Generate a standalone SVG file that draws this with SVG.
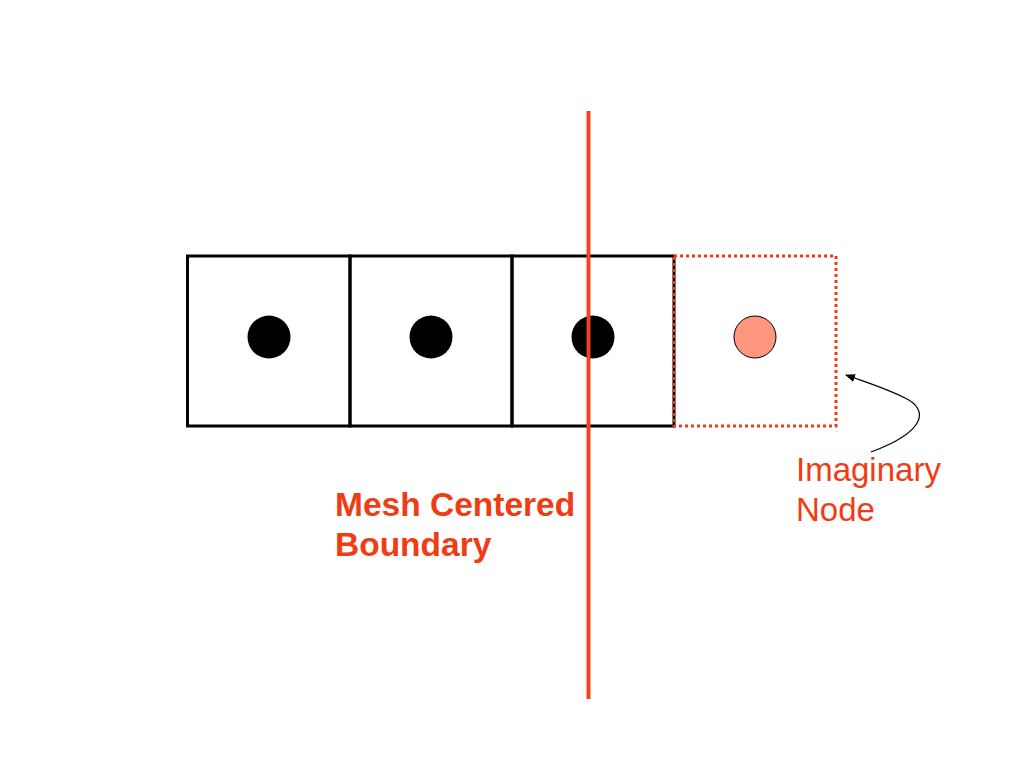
<svg xmlns="http://www.w3.org/2000/svg" width="1024" height="768" viewBox="0 0 1024 768">
<defs>
<style>
.cell{fill:none;stroke:#000;stroke-width:3}
.dot{fill:#000}
.lbl{font-family:"Liberation Sans",Arial,sans-serif;fill:#F03C14}
</style>
<marker id="ah" markerWidth="10" markerHeight="8" refX="9" refY="4" orient="auto" markerUnits="userSpaceOnUse">
<path d="M0,0 L10,4 L0,8 Z" fill="#000"/>
</marker>
</defs>
<rect width="1024" height="768" fill="#fff"/>
<g id="cell1"><rect class="cell" x="187.5" y="256" width="162.5" height="170"/><circle class="dot" cx="269" cy="337" r="21.5"/></g>
<g id="cell2"><rect class="cell" x="350" y="256" width="162" height="170"/><circle class="dot" cx="431" cy="337" r="21.5"/></g>
<g id="cell3"><rect class="cell" x="512" y="256" width="162" height="170"/><circle class="dot" cx="593" cy="337" r="21.5"/></g>
<g id="imaginary"><rect x="674" y="256" width="162" height="170" fill="none" stroke="#F03C14" stroke-width="3" stroke-dasharray="3,3"/><circle cx="755" cy="337" r="21" fill="#FF967E" stroke="#000" stroke-width="1"/></g>
<g id="boundary"><line x1="588.5" y1="111" x2="588.5" y2="699" stroke="#EE4422" stroke-width="4"/></g>
<g id="connectors"><path d="M871,452 C925,432 930,410 905,398 C885,388 865,382 846,375" fill="none" stroke="#000" stroke-width="1.2" marker-end="url(#ah)"/></g>
<g id="labels">
<text class="lbl" x="335" y="516" font-size="33.5" font-weight="bold">Mesh Centered</text>
<text class="lbl" x="335" y="556" font-size="33.5" font-weight="bold">Boundary</text>
<text class="lbl" x="796" y="481" font-size="33">Imaginary</text>
<text class="lbl" x="796" y="521" font-size="33">Node</text>
</g>
</svg>
